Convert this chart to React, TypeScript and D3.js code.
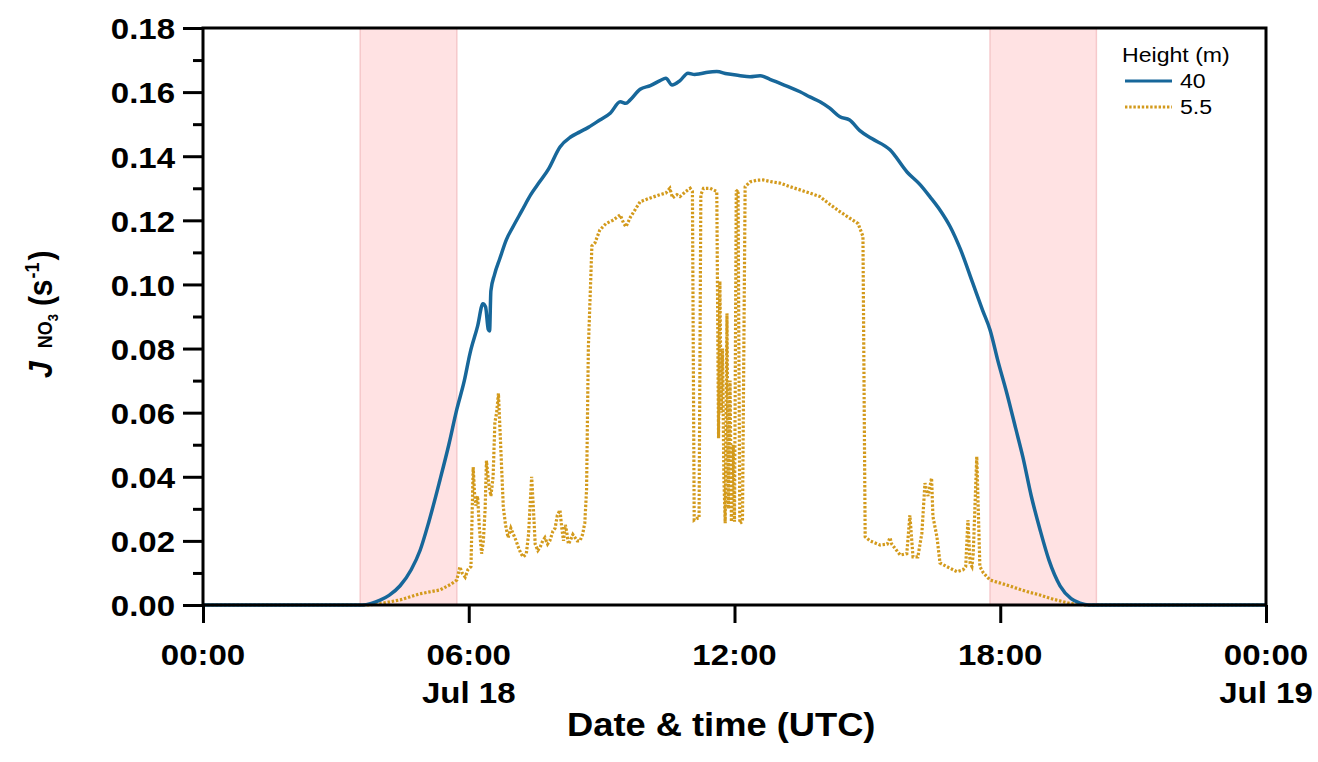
import React, { useEffect, useRef } from 'react';
import * as d3 from 'd3';

// [hour of Jul 18 (UTC), J_NO3 in s^-1]
const height40: [number, number][] = [
  [0, 0], [3.6, 0], [3.8, 0.0005], [4.0, 0.0015], [4.2, 0.003], [4.45, 0.006], [4.7, 0.011],
  [4.9, 0.017], [5.1, 0.026], [5.35, 0.039], [5.55, 0.05], [5.73, 0.061], [5.9, 0.07],
  [6.03, 0.0786], [6.2, 0.087], [6.32, 0.094], [6.38, 0.093], [6.44, 0.086], [6.47, 0.0855],
  [6.5, 0.098], [6.58, 0.103], [6.7, 0.108], [6.85, 0.114], [7.0, 0.118], [7.2, 0.123],
  [7.4, 0.128], [7.6, 0.132], [7.8, 0.136], [8.06, 0.1429], [8.3, 0.146], [8.51, 0.1476],
  [8.7, 0.149], [8.96, 0.1513], [9.2, 0.1535], [9.42, 0.157], [9.55, 0.1565], [9.64, 0.1575],
  [9.87, 0.1609], [10.1, 0.162], [10.32, 0.1636], [10.45, 0.1643], [10.59, 0.1622],
  [10.77, 0.1636], [10.95, 0.1659], [11.1, 0.1655], [11.22, 0.1657], [11.4, 0.1662],
  [11.6, 0.1664], [11.83, 0.1657], [12.1, 0.1652], [12.35, 0.1648], [12.58, 0.1651],
  [12.8, 0.164], [13.03, 0.1627], [13.25, 0.1615], [13.48, 0.1601], [13.7, 0.1585],
  [13.93, 0.157], [14.15, 0.155], [14.38, 0.1523], [14.6, 0.1513], [14.83, 0.148],
  [15.1, 0.1455], [15.51, 0.142], [15.9, 0.135], [16.2, 0.131], [16.41, 0.1274],
  [16.65, 0.123], [16.87, 0.118], [17.1, 0.111], [17.38, 0.1004], [17.6, 0.092],
  [17.77, 0.0858], [17.95, 0.076], [18.15, 0.066], [18.35, 0.055], [18.51, 0.0462],
  [18.7, 0.034], [18.9, 0.0234], [19.1, 0.014], [19.35, 0.006], [19.6, 0.002],
  [19.8, 0.0006], [20.0, 0], [24, 0],
];

const height5_5: [number, number][] = [
  [0, 0], [3.75, 0], [4.0, 0.0004], [4.45, 0.0016], [4.9, 0.0035], [5.35, 0.0047], [5.6, 0.0065],
  [5.73, 0.0078], [5.8, 0.0119], [5.85, 0.01], [5.92, 0.0087], [5.98, 0.011], [6.05, 0.012],
  [6.1, 0.043], [6.13, 0.035], [6.16, 0.031], [6.2, 0.034], [6.24, 0.024], [6.29, 0.016],
  [6.33, 0.02], [6.37, 0.03], [6.4, 0.045], [6.45, 0.038], [6.5, 0.034], [6.55, 0.04],
  [6.59, 0.057], [6.63, 0.06], [6.67, 0.066], [6.72, 0.05], [6.78, 0.0306], [6.83, 0.025],
  [6.89, 0.021], [6.95, 0.024], [7.01, 0.022], [7.07, 0.02], [7.12, 0.018], [7.18, 0.016],
  [7.23, 0.015], [7.3, 0.016], [7.35, 0.022], [7.42, 0.04], [7.46, 0.03], [7.5, 0.019],
  [7.56, 0.017], [7.61, 0.018], [7.67, 0.02], [7.72, 0.021], [7.78, 0.019], [7.83, 0.02],
  [7.9, 0.023], [7.95, 0.024], [8.0, 0.028], [8.06, 0.0296], [8.1, 0.024], [8.14, 0.02],
  [8.18, 0.025], [8.21, 0.023], [8.25, 0.019], [8.29, 0.02], [8.35, 0.022], [8.4, 0.021],
  [8.45, 0.02], [8.51, 0.02], [8.57, 0.022], [8.62, 0.0256], [8.66, 0.036], [8.7, 0.08],
  [8.75, 0.1], [8.78, 0.112], [8.85, 0.113], [8.96, 0.117], [9.1, 0.119], [9.25, 0.12],
  [9.42, 0.1217], [9.5, 0.119], [9.55, 0.118], [9.65, 0.121], [9.87, 0.1258], [10.1, 0.127],
  [10.32, 0.128], [10.45, 0.1285], [10.54, 0.13], [10.6, 0.127], [10.7, 0.128],
  [10.77, 0.1274], [10.9, 0.129], [11.0, 0.13], [11.05, 0.129], [11.09, 0.0265],
  [11.15, 0.027], [11.2, 0.027], [11.24, 0.128], [11.3, 0.13], [11.45, 0.13], [11.6, 0.129],
  [11.64, 0.052], [11.67, 0.101], [11.7, 0.06], [11.73, 0.08], [11.76, 0.04], [11.79, 0.0255],
  [11.83, 0.091], [11.86, 0.03], [11.9, 0.07], [11.93, 0.026], [11.97, 0.05], [12.0, 0.026],
  [12.04, 0.129], [12.08, 0.1295], [12.12, 0.0255], [12.18, 0.026], [12.24, 0.1305],
  [12.35, 0.132], [12.5, 0.1325], [12.65, 0.1326], [12.85, 0.132], [13.03, 0.1316],
  [13.25, 0.1305], [13.48, 0.1295], [13.7, 0.1285], [13.93, 0.1274], [14.15, 0.125],
  [14.38, 0.1227], [14.6, 0.1207], [14.79, 0.119], [14.9, 0.115], [14.95, 0.0213],
  [15.06, 0.02], [15.29, 0.0187], [15.45, 0.019], [15.51, 0.021], [15.55, 0.019],
  [15.74, 0.0156], [15.89, 0.016], [15.96, 0.028], [16.03, 0.015], [16.14, 0.015],
  [16.23, 0.0224], [16.3, 0.038], [16.37, 0.034], [16.45, 0.0396], [16.48, 0.0276],
  [16.57, 0.0213], [16.64, 0.0131], [16.79, 0.012], [17.02, 0.0104], [17.16, 0.011],
  [17.22, 0.012], [17.27, 0.0265], [17.32, 0.013], [17.36, 0.012], [17.39, 0.016],
  [17.47, 0.0463], [17.54, 0.012], [17.62, 0.01], [17.77, 0.0078], [18.15, 0.0062],
  [18.6, 0.0042], [18.9, 0.0031], [19.2, 0.0018], [19.57, 0.0005], [19.9, 0], [24, 0],
];

// twilight bands (hours)
const shadedBands: [number, number][] = [[3.55, 5.73], [17.77, 20.17]];

const xTickHours = [0, 6, 12, 18, 24];
const xTickTimes = ['00:00', '06:00', '12:00', '18:00', '00:00'];
const xTickDates = ['', 'Jul 18', '', '', 'Jul 19'];
const yTicks = [0, 0.02, 0.04, 0.06, 0.08, 0.1, 0.12, 0.14, 0.16, 0.18];
const yMinorTicks = [0.01, 0.03, 0.05, 0.07, 0.09, 0.11, 0.13, 0.15, 0.17];

const legendTitle = 'Height (m)';
const seriesNames = ['40', '5.5'];
const colors = ['#17679a', '#d39a1c'];

const W = 1318;
const H = 762;
const margin = { top: 28, right: 52, bottom: 157, left: 203 };
const FONT = '"Liberation Sans", Arial, sans-serif';
const SX = 1.1; // the reference text is a little wider than the font
const DOTS = '2.4,1.8';

const Chart = () => {
  const svgRef = useRef<SVGSVGElement>(null);

  useEffect(() => {
    const svg = d3.select(svgRef.current);
    svg.selectAll('*').remove();

    const innerW = W - margin.left - margin.right;
    const innerH = H - margin.top - margin.bottom;

    const x = d3.scaleLinear().domain([0, 24]).range([margin.left, margin.left + innerW]);
    const y = d3.scaleLinear().domain([0, 0.18]).range([margin.top + innerH, margin.top]);

    svg.append('rect').attr('width', W).attr('height', H).attr('fill', 'white');

    // pink bands
    svg
      .selectAll('.band')
      .data(shadedBands)
      .enter()
      .append('rect')
      .attr('x', d => x(d[0]))
      .attr('y', y(0.18))
      .attr('width', d => x(d[1]) - x(d[0]))
      .attr('height', y(0) - y(0.18))
      .attr('fill', '#ffe2e3')
      .attr('stroke', '#f6c9cb')
      .attr('stroke-width', 1.5);

    const line = d3
      .line<[number, number]>()
      .x(d => x(d[0]))
      .y(d => y(d[1]));

    svg
      .append('path')
      .datum(height5_5)
      .attr('fill', 'none')
      .attr('stroke', colors[1])
      .attr('stroke-width', 3.2)
      .attr('stroke-dasharray', DOTS)
      .attr('d', line);

    svg
      .append('path')
      .datum(height40)
      .attr('fill', 'none')
      .attr('stroke', colors[0])
      .attr('stroke-width', 3.5)
      .attr('stroke-linejoin', 'round')
      .attr('d', line.curve(d3.curveMonotoneX));

    // frame
    svg
      .append('rect')
      .attr('x', margin.left)
      .attr('y', margin.top)
      .attr('width', innerW)
      .attr('height', innerH)
      .attr('fill', 'none')
      .attr('stroke', 'black')
      .attr('stroke-width', 3);

    // y axis
    const yAxis = svg
      .append('g')
      .attr('transform', `translate(${margin.left},0)`)
      .call(d3.axisLeft(y).tickValues(yTicks).tickSize(20).tickFormat(d3.format('.2f')));
    yAxis.select('.domain').remove();
    yAxis.selectAll('.tick line').attr('stroke-width', 3);
    yAxis
      .selectAll('.tick text')
      .attr('font-family', FONT)
      .attr('font-weight', 'bold')
      .attr('font-size', 30)
      .attr('fill', 'black')
      .attr('x', 0)
      .attr('dy', '0.36em')
      .attr('transform', `translate(-28,0) scale(${SX},1)`);

    svg
      .append('g')
      .attr('transform', `translate(${margin.left},0)`)
      .call(d3.axisLeft(y).tickValues(yMinorTicks).tickSize(10).tickFormat(() => ''))
      .call(g => g.select('.domain').remove())
      .selectAll('.tick line')
      .attr('stroke-width', 3);

    // x axis
    const xAxis = svg
      .append('g')
      .attr('transform', `translate(0,${margin.top + innerH})`)
      .call(d3.axisBottom(x).tickValues(xTickHours).tickSize(18).tickFormat(() => ''));
    xAxis.select('.domain').remove();
    xAxis.selectAll('.tick line').attr('stroke-width', 3);
    xAxis.selectAll('.tick text').remove();

    const xl = svg
      .append('g')
      .selectAll('g')
      .data(xTickHours)
      .enter()
      .append('g')
      .attr('transform', d => `translate(${x(d)},0) scale(${SX},1)`)
      .attr('font-family', FONT)
      .attr('font-weight', 'bold')
      .attr('font-size', 30)
      .attr('text-anchor', 'middle');
    xl.append('text').attr('y', 665).text((d, i) => xTickTimes[i]);
    xl.append('text').attr('y', 703).text((d, i) => xTickDates[i]);

    // x title
    svg
      .append('text')
      .attr('transform', `translate(${x(11.7)},736) scale(${SX},1)`)
      .attr('text-anchor', 'middle')
      .attr('font-family', FONT)
      .attr('font-weight', 'bold')
      .attr('font-size', 33)
      .text('Date & time (UTC)');

    // y title, reads upward from the bottom
    const yt = svg
      .append('text')
      .attr('transform', `translate(52,378) rotate(-90) scale(1,${SX})`)
      .attr('text-anchor', 'start')
      .attr('font-family', FONT)
      .attr('font-weight', 'bold')
      .attr('font-size', 30);
    yt.append('tspan').attr('font-style', 'italic').text('J');
    yt.append('tspan').attr('font-size', 18).attr('dx', 13).text('NO');
    yt.append('tspan').attr('font-size', 13).attr('dy', 5).text('3');
    yt.append('tspan').attr('dy', -5).attr('dx', 8).text('(s');
    yt.append('tspan').attr('font-size', 18).attr('dy', -12).attr('dx', 1).text('-1');
    yt.append('tspan').attr('dy', 12).attr('dx', 2).text(')');

    // legend
    const lg = svg.append('g').attr('font-family', FONT).attr('font-size', 21);
    lg.append('text')
      .attr('transform', `translate(1122,62) scale(${SX},1)`)
      .text(legendTitle);
    seriesNames.forEach((name, i) => {
      const ly = 81 + i * 26;
      lg.append('line')
        .attr('x1', 1125)
        .attr('x2', 1172)
        .attr('y1', ly)
        .attr('y2', ly)
        .attr('stroke', colors[i])
        .attr('stroke-width', 3)
        .attr('stroke-dasharray', i === 0 ? null : DOTS);
      lg.append('text')
        .attr('transform', `translate(1180,${ly + 7}) scale(${SX},1)`)
        .text(name);
    });
  }, []);

  return <svg ref={svgRef} width={W} height={H} style={{ position: 'absolute', left: 0, top: 0 }} />;
};

export default function App() {
  return <Chart />;
}
